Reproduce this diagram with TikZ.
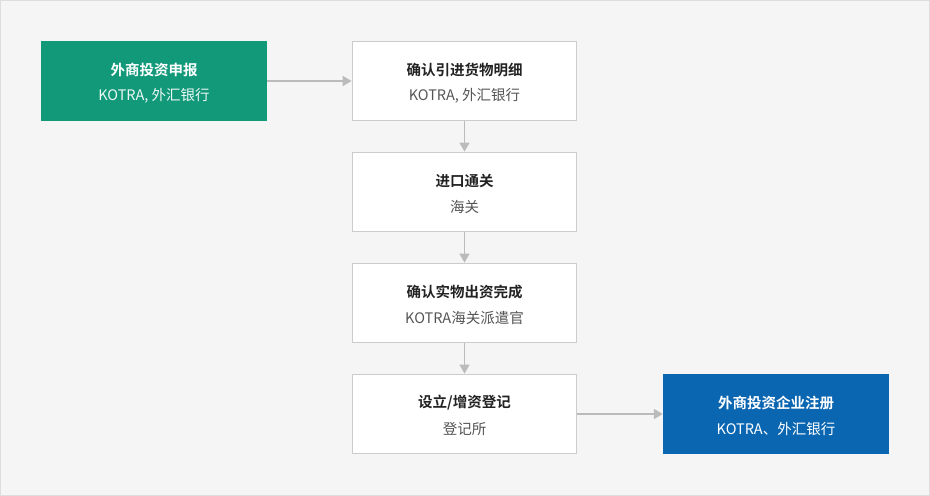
\documentclass[tikz,border=0pt]{standalone}
\usepackage{fontspec}
\setmainfont{Noto Sans CJK SC}[BoldFont={* Bold}]
\usetikzlibrary{arrows.meta,positioning}
\definecolor{bgc}{HTML}{F5F5F5}
\definecolor{framec}{HTML}{DDDDDD}
\definecolor{boxline}{HTML}{CCCCCC}
\definecolor{arrowc}{HTML}{BBBBBB}
\definecolor{greenc}{HTML}{11997A}
\definecolor{bluec}{HTML}{0B66B2}
\definecolor{titlec}{HTML}{222222}
\definecolor{subc}{HTML}{555555}
\tikzset{
  stepbox/.style={draw=boxline, line width=1.8bp, fill=white, minimum width=224bp, minimum height=79bp, inner sep=0pt},
  greenbox/.style={fill=greenc, minimum width=226bp, minimum height=80bp, inner sep=0pt},
  bluebox/.style={fill=bluec, minimum width=226bp, minimum height=80bp, inner sep=0pt},
  flow/.style={draw=arrowc, line width=1.6bp, -{Triangle[width=10bp,length=9bp]}},
  ttl/.style={font=\fontsize{14.5bp}{17bp}\selectfont\bfseries},
  sub/.style={font=\fontsize{14.5bp}{17bp}\selectfont},
}
\begin{document}
\begin{tikzpicture}[x=1bp,y=-1bp]
\path[use as bounding box, fill=bgc, draw=framec, line width=1bp] (0.5,0.5) rectangle (929.5,495.5);
\node[greenbox] (a) at (154,81) {};
\node[stepbox] (b) at (464.5,81) {};
\node[stepbox] (c) at (464.5,192) {};
\node[stepbox] (d) at (464.5,303) {};
\node[stepbox] (e) at (464.5,414) {};
\node[bluebox] (f) at (776,414) {};
% texts
\node[ttl, text=white] (at) at (154,70) {外商投资申报};
\node[sub, text=white!92!greenc] (as) at (154,96) {KOTRA, 外汇银行};
\node[ttl, text=titlec] (bt) at (464.5,70) {确认引进货物明细};
\node[sub, text=subc] (bs) at (464.5,96) {KOTRA, 外汇银行};
\node[ttl, text=titlec] (ct) at (464.5,181) {进口通关};
\node[sub, text=subc] (cs) at (464.5,207) {海关};
\node[ttl, text=titlec] (dt) at (464.5,292) {确认实物出资完成};
\node[sub, text=subc] (ds) at (464.5,318) {KOTRA海关派遣官};
\node[ttl, text=titlec] (et) at (464.5,403) {设立/增资登记};
\node[sub, text=subc] (es) at (464.5,429) {登记所};
\node[ttl, text=white] (ft) at (776,403) {外商投资企业注册};
\node[sub, text=white] (fs) at (776,429) {KOTRA、外汇银行};
% arrows
\draw[flow] (a.east) -- (b.west);
\draw[flow] (b.south) -- (c.north);
\draw[flow] (c.south) -- (d.north);
\draw[flow] (d.south) -- (e.north);
\draw[flow] (e.east) -- (f.west);
\end{tikzpicture}
\end{document}
